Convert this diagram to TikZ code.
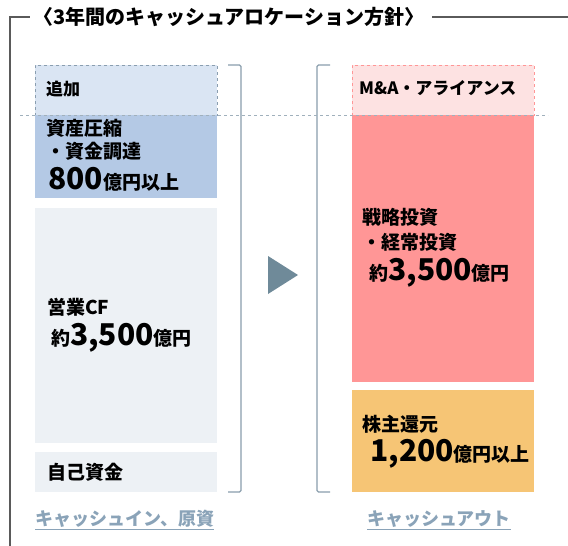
\documentclass[tikz,border=0pt]{standalone}
\usepackage{fontspec}
\setmainfont{Noto Sans CJK JP}
\definecolor{framec}{HTML}{5A5A5A}
\definecolor{addblue}{HTML}{DAE5F3}
\definecolor{dashblue}{HTML}{8A9EB0}
\definecolor{midblue}{HTML}{B4C9E5}
\definecolor{paleblue}{HTML}{EDF1F5}
\definecolor{addpink}{HTML}{FDE2E2}
\definecolor{dashpink}{HTML}{FF9696}
\definecolor{redbox}{HTML}{FF9696}
\definecolor{orangebox}{HTML}{F6C575}
\definecolor{arrowc}{HTML}{6F8A99}
\definecolor{bracketc}{HTML}{8A9EAD}
\definecolor{labelc}{HTML}{8AA3B8}
\definecolor{sepc}{HTML}{A0B0BC}
\newcommand{\fs}[1]{\fontsize{#1}{#1}\selectfont}
\begin{document}
\begin{tikzpicture}[x=1pt,y=-1pt,
  box/.style={anchor=north west,inner sep=0pt,outer sep=0pt,draw=none},
  txt/.style={anchor=west,inner sep=0pt,font=\bfseries\fs{19},text=black},
  lbl/.style={anchor=west,inner sep=0pt,font=\bfseries\fs{18},text=labelc},
  bracket/.style={draw=bracketc,line width=1.3pt,rounded corners=1.5pt},
  ]
\useasboundingbox (0,0) rectangle (568,546);
\fill[white] (0,0) rectangle (568,546);
% frame
\coordinate (fb) at (10,546);
\coordinate (fc) at (10,17);
\coordinate (fl) at (30,17);
\coordinate (fr0) at (432,17);
\coordinate (fr1) at (568,17);
\draw[framec,line width=1.2pt] (fb) -- (fc) -- (fl);
\draw[framec,line width=1.2pt] (fr0) -- (fr1);
\node[anchor=west,inner sep=0pt,font=\bfseries\fs{20}] (title) at (33,17) {〈3年間のキャッシュアロケーション方針〉};
% left column
\node[box,fill=addblue,draw=dashblue,dashed,line width=0.9pt,minimum width=182pt,minimum height=50pt] (add) at (35,65) {};
\node[box,fill=midblue,minimum width=182pt,minimum height=83pt] (asset) at (35,115) {};
\node[box,fill=paleblue,minimum width=182pt,minimum height=235pt] (opcf) at (35,208) {};
\node[box,fill=paleblue,minimum width=182pt,minimum height=40pt] (own) at (35,452) {};
\node[txt,font=\bfseries\fs{17}] (addt) at (46,89) {追加};
\node[txt] (asset1) at (46,128) {資産圧縮};
\node[txt] (asset2) at (46,151) {・資金調達};
\node[txt] (asset3) at (48,179) {{\fs{30}800}{\fs{19}億円以上}};
\node[txt] (opcf1) at (47,307) {営業CF};
\node[txt] (opcf2) at (51,338) {約{\fs{30}3,500}億円};
\node[txt] (own1) at (47,472) {自己資金};
\node[lbl] (inlbl) at (35,519) {キャッシュイン、原資};
\draw[labelc,line width=1pt] ([yshift=-2pt]inlbl.south west) -- ([yshift=-2pt]inlbl.south east);
% bracket left
\draw[bracket] (228,65) -- (241,65) -- (241,492) -- (228,492);
% arrow
\fill[arrowc] (268,256) -- (298,275) -- (268,294) -- cycle;
% right column
\draw[bracket] (330,65) -- (317,65) -- (317,492) -- (330,492);
\node[box,fill=addpink,draw=dashpink,dashed,line width=0.9pt,minimum width=182pt,minimum height=50pt] (ma) at (352,65) {};
\node[box,fill=redbox,minimum width=182pt,minimum height=267pt] (strat) at (352,115) {};
\node[box,fill=orangebox,minimum width=182pt,minimum height=102pt] (share) at (352,390) {};
\node[txt,font=\bfseries\fs{17}] (mat) at (359,88) {M\&A・アライアンス};
\node[txt] (strat1) at (362,217) {戦略投資};
\node[txt] (strat2) at (362,242) {・経常投資};
\node[txt] (strat3) at (369,273) {約{\fs{30}3,500}億円};
\node[txt] (share1) at (362,424) {株主還元};
\node[txt] (share2) at (370,454) {{\fs{30}1,200}億円以上};
\node[lbl] (outlbl) at (367,519) {キャッシュアウト};
\draw[labelc,line width=1pt] ([yshift=-2pt]outlbl.south west) -- ([yshift=-2pt]outlbl.south east);
% separator
\coordinate (s0) at (20,115);
\coordinate (s1) at (548,115);
\draw[sepc,dashed,line width=0.9pt] (s0) -- (s1);
\end{tikzpicture}
\end{document}
